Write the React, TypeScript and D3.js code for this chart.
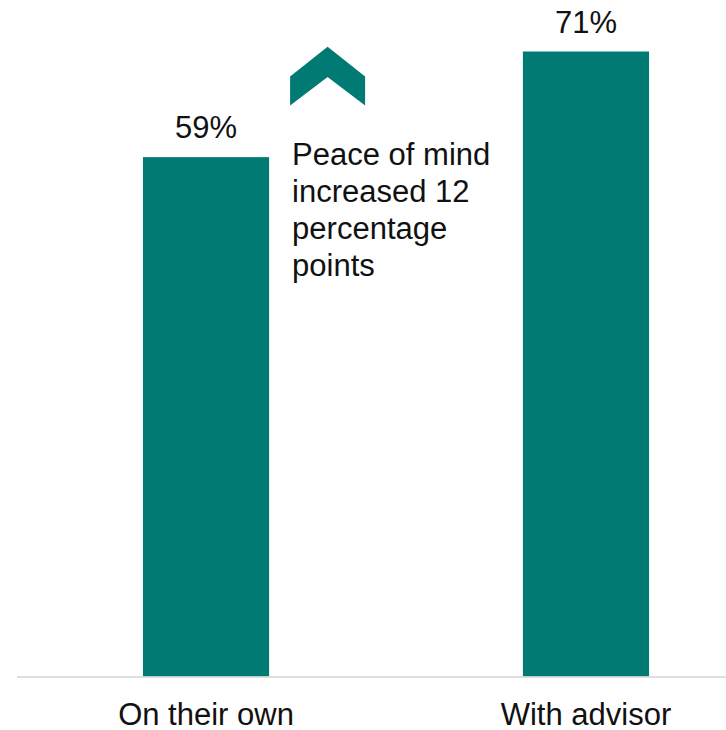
import React from "react";
import * as d3 from "d3";

const categories = ["On their own", "With advisor"];
const values = [59, 71];
const valueLabels = ["59%", "71%"];
const annotationLines = ["Peace of mind", "increased 12", "percentage", "points"];

const W = 726;
const H = 730;
const BAR = "#007A72";
const FONT = "'Liberation Sans', Arial, Helvetica, sans-serif";

export default function App() {
  const x = d3
    .scaleBand<string>()
    .domain(categories)
    .range([-47, 839])
    .paddingInner(0.668)
    .paddingOuter(0.5);
  const y = d3.scaleLinear().domain([0, 71]).range([676.5, 51.5]);

  const bw = x.bandwidth();
  const annX = (x(categories[0]) as number) + bw + 21;
  // chevron geometry (relative to annotation anchor)
  const cw = 75;
  const cTop = 46.7;
  const cShoulder = 76.5;
  const cBottom = 105.5;
  const chevron = d3.line()([
    [annX, cShoulder],
    [annX + cw / 2, cTop],
    [annX + cw, cShoulder],
    [annX + cw, cBottom],
    [annX + cw / 2, cShoulder + 0.5],
    [annX, cBottom],
  ]) + "Z";

  return (
    <svg
      width={W}
      height={H}
      style={{ position: "absolute", left: 0, top: 0, display: "block" }}
      fontFamily={FONT}
    >
      <rect width={W} height={H} fill="#ffffff" />
      {categories.map((c, i) => (
        <g key={c}>
          <rect
            x={x(c)}
            y={y(values[i])}
            width={bw}
            height={y(0) - y(values[i])}
            fill={BAR}
          />
          <text
            x={(x(c) as number) + bw / 2}
            y={y(values[i]) - 19}
            textAnchor="middle"
            fontSize={31}
            fill="#111"
          >
            {valueLabels[i]}
          </text>
          <text
            x={(x(c) as number) + bw / 2}
            y={725}
            textAnchor="middle"
            fontSize={31}
            fill="#111"
          >
            {c}
          </text>
        </g>
      ))}
      <line x1={17} x2={W} y1={677} y2={677} stroke="#d3d6d6" strokeWidth={1.5} />
      <path d={chevron} fill={BAR} />
      {annotationLines.map((t, i) => (
        <text key={t} x={annX + 2} y={165 + i * 37} fontSize={31} fill="#111">
          {t}
        </text>
      ))}
    </svg>
  );
}
